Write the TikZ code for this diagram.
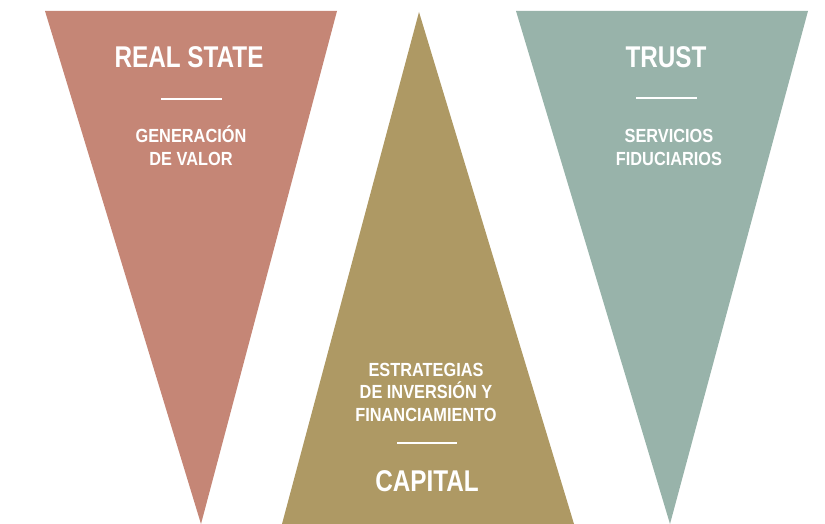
\documentclass[tikz,border=0pt]{standalone}
\usepackage{fontspec}
\newfontfamily\titlefont{Liberation Sans}[FakeStretch=0.81]
\newfontfamily\subfont{Liberation Sans}[FakeStretch=0.86]
\usetikzlibrary{calc,positioning}

\definecolor{realstate}{RGB}{197,134,118}
\definecolor{capital}{RGB}{174,153,100}
\definecolor{trust}{RGB}{152,179,170}

\tikzset{
    title/.style={text=white, anchor=base, inner sep=0pt,
        font=\titlefont\bfseries\fontsize{30}{30}\selectfont},
    subtitle/.style={text=white, anchor=base, inner sep=0pt,
        font=\subfont\bfseries\fontsize{19}{22}\selectfont},
    bar/.style={white, line width=2pt}
}

\begin{document}
\begin{tikzpicture}[x=1pt,y=-1pt]
    \useasboundingbox (0,0) rectangle (825,524);

    % Triangle corners
    \coordinate (rs1) at (45,11);   % real state
    \coordinate (rs2) at (337,11);
    \coordinate (rs3) at (201,524);
    \coordinate (cp1) at (419,12);  % capital
    \coordinate (cp2) at (282,524);
    \coordinate (cp3) at (574,524);
    \coordinate (tr1) at (516,11);  % trust
    \coordinate (tr2) at (808,11);
    \coordinate (tr3) at (670,524);

    % Draw triangles
    \foreach \t/\c in {rs/realstate,cp/capital,tr/trust} {
        \fill[\c] (\t1) -- (\t2) -- (\t3) -- cycle;
    }

    % Titles
    \node[title] (rstitle) at (189,68) {REAL STATE};
    \node[title] (trtitle) at (666,68) {TRUST};
    \node[title] (cptitle) at (427,491) {CAPITAL};

    % Rules
    \draw[bar] (161,99) -- (222,99);
    \draw[bar] (636,98) -- (697,98);
    \draw[bar] (397,443) -- (457,443);

    % Subtitles
    \node[subtitle] (rssub1) at (191,143) {GENERACIÓN};
    \node[subtitle] (rssub2) at (191,166) {DE VALOR};
    \node[subtitle] (trsub1) at (669,143) {SERVICIOS};
    \node[subtitle] (trsub2) at (669,166) {FIDUCIARIOS};
    \node[subtitle] (cpsub1) at (426,376) {ESTRATEGIAS};
    \node[subtitle] (cpsub2) at (426,398) {DE INVERSIÓN Y};
    \node[subtitle] (cpsub3) at (426,421) {FINANCIAMIENTO};
\end{tikzpicture}
\end{document}
